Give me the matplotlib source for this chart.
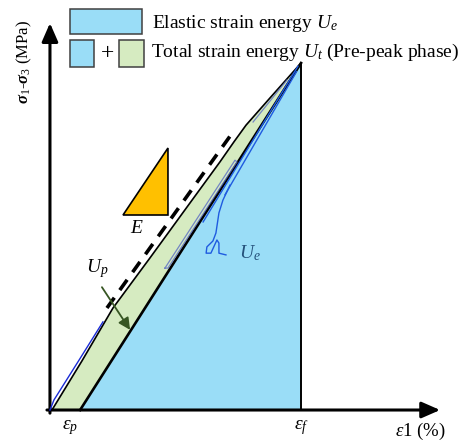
import matplotlib
matplotlib.use("Agg")
import matplotlib.pyplot as plt
from matplotlib.patches import Polygon, Rectangle

plt.rcParams['font.family'] = ['Liberation Serif', 'DejaVu Serif']
plt.rcParams['mathtext.fontset'] = 'custom'
plt.rcParams['mathtext.rm'] = 'Liberation Serif'
plt.rcParams['mathtext.it'] = 'Liberation Serif:italic'
plt.rcParams['mathtext.bf'] = 'Liberation Serif:bold:italic'

# strain normalised by peak strain, stress normalised by peak stress
eps_p = 0.12
eps_f = 1.0
peak = 1.0

# pre-peak loading curve
load_strain = [0.008, 0.127, 0.251, 0.398, 0.558, 0.677, 0.733, 0.781, 0.876, 1.0]
load_stress = [0.0, 0.141, 0.294, 0.438, 0.597, 0.715, 0.773, 0.821, 0.899, 1.0]

# elastic modulus tangent (dashed)
tangent_strain = [0.227, 0.721]
tangent_stress = [0.294, 0.793]

# modulus triangle E
tri_strain = [0.291, 0.470, 0.470]
tri_stress = [0.562, 0.755, 0.562]

# hand traced blue lines
trace_low_strain = [0.0, 0.016, 0.116, 0.211]
trace_low_stress = [0.0, 0.029, 0.144, 0.254]
trace_up_strain = [0.610, 0.988]
trace_up_stress = [0.542, 0.991]
trace_up2_strain = [0.697, 0.982]
trace_up2_stress = [0.620, 0.975]
squiggle_strain = [0.717, 0.689, 0.673, 0.661, 0.649, 0.625, 0.622, 0.641,
                   0.665, 0.673, 0.673, 0.701]
squiggle_stress = [0.648, 0.605, 0.568, 0.510, 0.487, 0.470, 0.452, 0.452,
                   0.490, 0.481, 0.452, 0.447]
loop_strain = [0.458, 0.737, 0.745, 0.470, 0.458]
loop_stress = [0.409, 0.720, 0.715, 0.409, 0.409]
loop_top_strain = [0.809, 0.944]
loop_top_stress = [0.830, 0.951]

# U_p pointer
up_start = (0.207, 0.354)
up_end = (0.319, 0.231)

blue = '#9ADDF7'
green = '#D6EBC1'
orange = '#FFC000'

fig = plt.figure(figsize=(4.7, 4.41), dpi=100)
ax = fig.add_axes([0, 0, 1, 1])
ax.set_xlim(-0.199, 1.673)
ax.set_ylim(-0.0893, 1.1816)
ax.axis('off')

# total strain energy (green) and elastic strain energy (blue)
green_pts = list(zip(load_strain, load_stress)) + [(eps_p, 0.0)]
ax.add_patch(Polygon(green_pts, closed=True, facecolor=green, edgecolor='none', zorder=1))
ax.add_patch(Polygon([(eps_p, 0), (eps_f, peak), (eps_f, 0)], closed=True,
                     facecolor=blue, edgecolor='none', zorder=2))
ax.plot(load_strain, load_stress, color='black', lw=1.2, zorder=4)
ax.plot([eps_p, eps_f], [0, peak], color='black', lw=1.9, zorder=4)
ax.plot([eps_f, eps_f], [0, peak], color='black', lw=1.4, zorder=4)

ax.plot(trace_low_strain, trace_low_stress, color='#1a2bd6', lw=1.0, zorder=5)
ax.plot(trace_up_strain, trace_up_stress, color='#1f5be0', lw=1.0, zorder=5)
ax.plot(trace_up2_strain, trace_up2_stress, color='#1f5be0', lw=1.0, zorder=5)
ax.plot(squiggle_strain, squiggle_stress, color='#1f5be0', lw=1.0, zorder=5)
ax.plot(loop_strain, loop_stress, color='#5a6cc4', lw=0.9, alpha=0.8, zorder=5)
ax.plot(loop_top_strain, loop_top_stress, color='#5a6cc4', lw=0.9, alpha=0.8, zorder=5)

ax.plot(tangent_strain, tangent_stress, color='black', lw=2.6,
        dashes=(3.5, 2.6), zorder=4)

ax.add_patch(Polygon(list(zip(tri_strain, tri_stress)), closed=True,
                     facecolor=orange, edgecolor='black', lw=1.2, zorder=4))
ax.text(0.347, 0.522, '$E$', fontsize=14, ha='center', va='center')

ax.annotate('', xy=up_end, xytext=up_start,
            arrowprops=dict(arrowstyle='-|>,head_length=0.5,head_width=0.25',
                            lw=1.3, color='black', fc='#375623', ec='#375623',
                            shrinkA=0, shrinkB=0, mutation_scale=14), zorder=6)
ax.text(0.187, 0.409, '$U_p$', fontsize=14, ha='center', va='center')
ax.text(0.797, 0.452, '$U_e$', fontsize=14, ha='center', va='center', color='#24507A')

# axes with arrow heads
ax.annotate('', xy=(0, 1.115), xytext=(0, -0.009),
            arrowprops=dict(arrowstyle='-|>,head_length=0.8,head_width=0.35',
                            lw=2.2, color='black', shrinkA=0, shrinkB=0,
                            mutation_scale=14))
ax.annotate('', xy=(1.554, 0), xytext=(-0.012, 0),
            arrowprops=dict(arrowstyle='-|>,head_length=0.8,head_width=0.35',
                            lw=2.2, color='black', shrinkA=0, shrinkB=0,
                            mutation_scale=14))

ax.text(eps_p - 0.04, -0.05, r'$\varepsilon_p$', fontsize=14, ha='center', va='center')
ax.text(eps_f, -0.05, r'$\varepsilon_f$', fontsize=14, ha='center', va='center')
ax.text(1.477, -0.063, r'$\varepsilon\mathit{1}$ (%)', fontsize=13.5, ha='center', va='center')
fig.text(0.051, 0.859, r'$\mathbf{\sigma}_1$-$\mathbf{\sigma}_3$ (MPa)', fontsize=12,
         rotation=90, ha='center', va='center')

# legend boxes
fig.patches.append(Rectangle((0.149, 0.923), 0.153, 0.0567, transform=fig.transFigure,
                             facecolor=blue, edgecolor='#404040', lw=1.1))
fig.patches.append(Rectangle((0.149, 0.848), 0.051, 0.061, transform=fig.transFigure,
                             facecolor=blue, edgecolor='#404040', lw=1.1))
fig.patches.append(Rectangle((0.253, 0.848), 0.053, 0.061, transform=fig.transFigure,
                             facecolor=green, edgecolor='#404040', lw=1.1))
fig.text(0.228, 0.878, '+', fontsize=17, ha='center', va='center')
fig.text(0.323, 0.946, 'Elastic strain energy $U_e$', fontsize=14, ha='left', va='center')
fig.text(0.321, 0.880, 'Total strain energy $U_t$ (Pre-peak phase)', fontsize=14,
         ha='left', va='center')

fig.savefig('out.png', dpi=100)
